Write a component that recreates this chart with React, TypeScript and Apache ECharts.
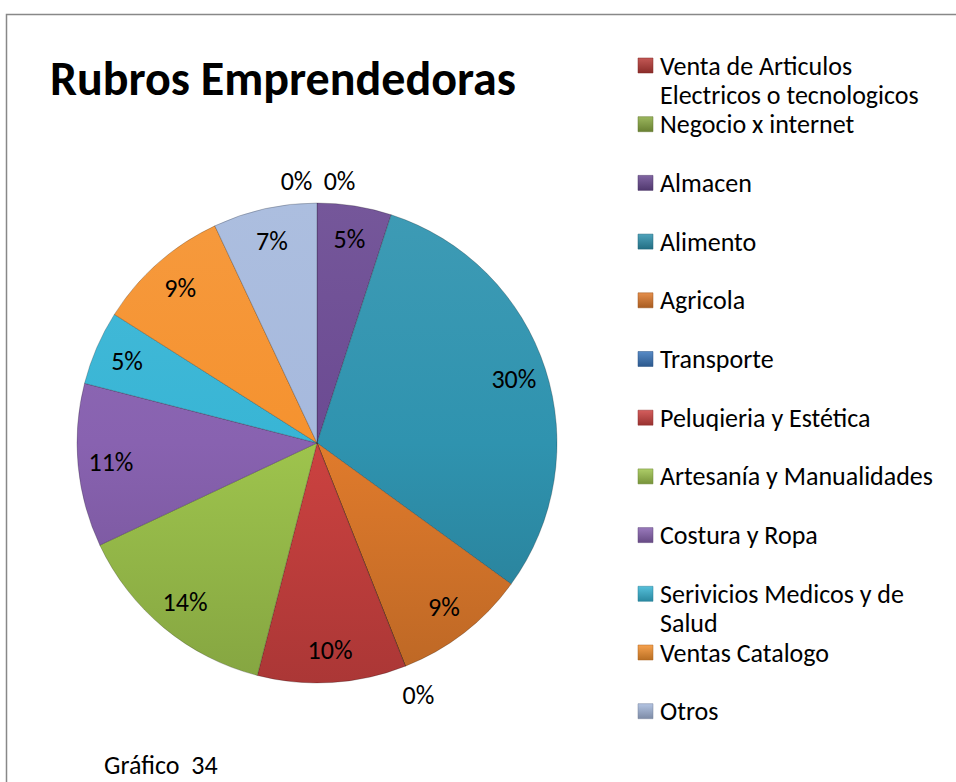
import React, { useEffect, useRef } from "react";
import * as echarts from "echarts";

const categories = [
  "Venta de Articulos\nElectricos o tecnologicos",
  "Negocio x internet",
  "Almacen",
  "Alimento",
  "Agricola",
  "Transporte",
  "Peluqieria y Estética",
  "Artesanía y Manualidades",
  "Costura y Ropa",
  "Serivicios Medicos y de\nSalud",
  "Ventas Catalogo",
  "Otros",
];
const values = [0, 0, 5, 30, 9, 0, 10, 14, 11, 5, 9, 7];
const chartTitle = "Rubros Emprendedoras";
const caption = "Gráfico  34";

const palette = [
  "#B83A37", "#8AAA42", "#6B4A92", "#2F93AF", "#E07B2C", "#3A76BC",
  "#CC4240", "#9EC44D", "#8862B0", "#38B5D5", "#F5922F", "#A6B9DD",
];

const FONT = "Carlito, Lato, 'Open Sans', sans-serif";
const CX = 317;
const CY = 443;
const R = 240;

function mix(hex: string, target: number, t: number) {
  const n = parseInt(hex.slice(1), 16);
  const r = (n >> 16) & 255, g = (n >> 8) & 255, b = n & 255;
  const f = (c: number) => Math.round(c + (target - c) * t);
  return `rgb(${f(r)},${f(g)},${f(b)})`;
}

function sliceFill(c: string) {
  return {
    type: "linear", x: 0, y: CY - R, x2: 0, y2: CY + R, global: true,
    colorStops: [
      { offset: 0, color: mix(c, 255, 0.07) },
      { offset: 0.5, color: c },
      { offset: 1, color: mix(c, 0, 0.16) },
    ],
  };
}

function iconFill(c: string) {
  return {
    type: "linear", x: 0, y: 0, x2: 0, y2: 1,
    colorStops: [
      { offset: 0, color: mix(c, 255, 0.15) },
      { offset: 1, color: mix(c, 0, 0.25) },
    ],
  };
}

export default function App() {
  const ref = useRef<HTMLDivElement>(null);
  useEffect(() => {
    if (!ref.current) return;
    const chart = echarts.init(ref.current, undefined, { renderer: "svg" });
    const total = values.reduce((a, b) => a + b, 0);

    const mids: number[] = [];
    let acc = 0;
    values.forEach((v) => {
      mids.push(((acc + v / 2) / total) * Math.PI * 2);
      acc += v;
    });
    const zeroOrder: Record<number, { k: number; n: number }> = {};
    const groups: Record<string, number[]> = {};
    values.forEach((v, i) => {
      if (v === 0) {
        const key = mids[i].toFixed(4);
        (groups[key] = groups[key] || []).push(i);
      }
    });
    Object.values(groups).forEach((g) => g.forEach((idx, k) => (zeroOrder[idx] = { k, n: g.length })));

    const legendStep = 58.7;
    const legendTop = 65.5;
    const lineH = 29;
    const legendGraphics: any[] = [];
    categories.forEach((name, i) => {
      const yc = legendTop + i * legendStep;
      legendGraphics.push({
        type: "rect",
        shape: { x: 638, y: yc - 7.5, width: 15, height: 15 },
        style: { fill: iconFill(palette[i]), stroke: mix(palette[i], 0, 0.3), lineWidth: 0.5 },
        silent: true,
      });
      legendGraphics.push({
        type: "text",
        x: 660,
        y: yc - lineH / 2,
        style: {
          text: name,
          font: `26px ${FONT}`,
          fill: "#000",
          lineHeight: lineH,
          verticalAlign: "top",
          align: "left",
        },
        silent: true,
      });
    });

    const data = categories.map((name, i) => ({ name, value: values[i] }));

    chart.setOption({
      animation: false,
      graphic: [
        {
          type: "rect",
          shape: { x: 6.5, y: 14.5, width: 1000, height: 1000 },
          style: { fill: "none", stroke: "#888", lineWidth: 1.5 },
          silent: true,
        },
        {
          type: "text",
          x: 50,
          y: 78,
          style: {
            text: chartTitle,
            font: `bold 48px ${FONT}`,
            fill: "#000",
            verticalAlign: "middle",
            align: "left",
          },
          silent: true,
        },
        {
          type: "text",
          x: 104,
          y: 765,
          style: {
            text: caption,
            font: `26px ${FONT}`,
            fill: "#000",
            verticalAlign: "middle",
            align: "left",
          },
          silent: true,
        },
        ...legendGraphics,
      ],
      series: [
        {
          type: "pie",
          center: [CX, CY],
          radius: [0, R],
          startAngle: 90,
          clockwise: true,
          silent: true,
          label: { show: false },
          labelLine: { show: false },
          data: data.map((d, i) => ({
            ...d,
            itemStyle: {
              color: sliceFill(palette[i]),
              borderColor: "rgba(0,0,0,0.22)",
              borderWidth: 1,
            },
          })),
        },
        {
          type: "pie",
          center: [CX, CY],
          radius: [R * 0.7, R],
          startAngle: 90,
          clockwise: true,
          silent: true,
          percentPrecision: 0,
          itemStyle: { color: "rgba(0,0,0,0)", borderWidth: 0 },
          label: {
            show: true,
            position: "inside",
            formatter: "{d}%",
            color: "#000",
            fontFamily: FONT,
            fontSize: 26,
          },
          labelLine: { show: false },
          labelLayout: (p: any) => {
            const i = p.dataIndex;
            if (values[i] !== 0) return {};
            const rr = R + 22;
            const a = mids[i];
            const zo = zeroOrder[i];
            const spread = (zo.k - (zo.n - 1) / 2) * 43;
            return {
              x: CX + rr * Math.sin(a) + spread + (zo.n > 1 ? 1 : 5),
              y: CY - rr * Math.cos(a) - (zo.n > 1 ? 0 : -8),
            };
          },
          data,
        },
      ],
    });
    return () => chart.dispose();
  }, []);
  return (
    <div
      ref={ref}
      style={{ position: "fixed", left: 0, top: 0, width: 956, height: 782, background: "#fff" }}
    />
  );
}
